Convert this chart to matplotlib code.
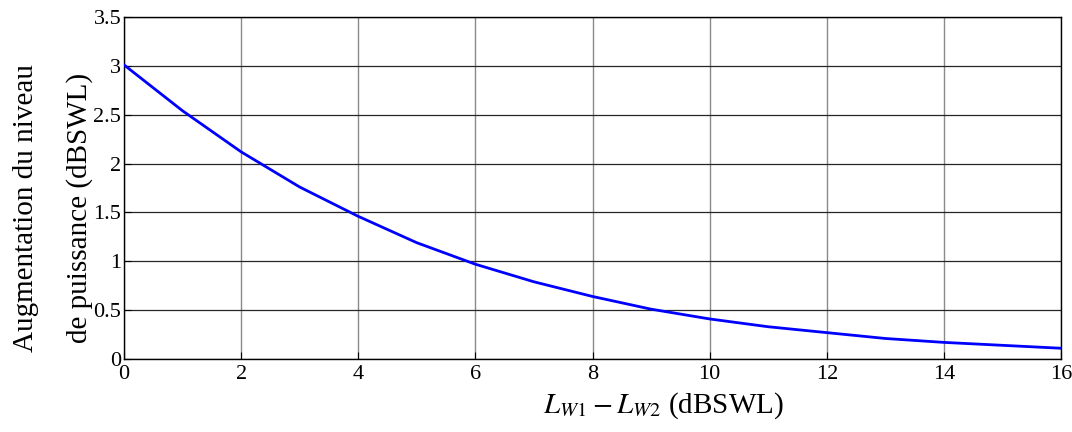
import matplotlib
matplotlib.use("Agg")
import matplotlib.pyplot as plt

x_vals = [0, 1, 2, 3, 4, 5, 6, 7, 8, 9, 10, 11, 12, 13, 14, 15, 16]
y_vals = [3.01, 2.54, 2.12, 1.76, 1.46, 1.19, 0.97, 0.79, 0.64, 0.51, 0.41, 0.33, 0.27, 0.21, 0.17, 0.14, 0.11]
x_ticks = [0, 2, 4, 6, 8, 10, 12, 14, 16]
y_ticks = [0, 0.5, 1, 1.5, 2, 2.5, 3, 3.5]
y_tick_labels = ["0", "0.5", "1", "1.5", "2", "2.5", "3", "3.5"]

plt.rcParams['font.family'] = ['Liberation Serif', 'DejaVu Serif']
plt.rcParams['mathtext.fontset'] = 'stix'

fig = plt.figure(figsize=(10.72, 4.32), dpi=100)
ax = fig.add_axes([124/1072, 1 - 359/432, (1061-124)/1072, (359-17)/432])
ax.plot(x_vals, y_vals, color='#0000ff', lw=2, zorder=3)
ax.set_xlim(0, 16)
ax.set_ylim(0, 3.5)
ax.set_xticks(x_ticks)
ax.set_yticks(y_ticks)
ax.set_yticklabels(y_tick_labels)
ax.xaxis.grid(True, color='#8a8a8a', lw=1.0)
ax.yaxis.grid(True, color='#262626', lw=0.9)
ax.tick_params(direction='in', labelsize=16, length=5)
ax.tick_params(axis='y', pad=2)
ax.tick_params(axis='x', pad=4)
for s in ax.spines.values():
    s.set_linewidth(1.0)

fig.text(26/1072, 1 - 208/432, "Augmentation du niveau", rotation=90, ha='center', va='center', fontsize=21)
fig.text(80/1072, 1 - 208/432, "de puissance (dBSWL)", rotation=90, ha='center', va='center', fontsize=21)
fig.text(663/1072, 1 - 406/432, r"$L_{W1} - L_{W2}$ (dBSWL)", ha='center', va='center', fontsize=21)

fig.savefig("out.png", dpi=100)
